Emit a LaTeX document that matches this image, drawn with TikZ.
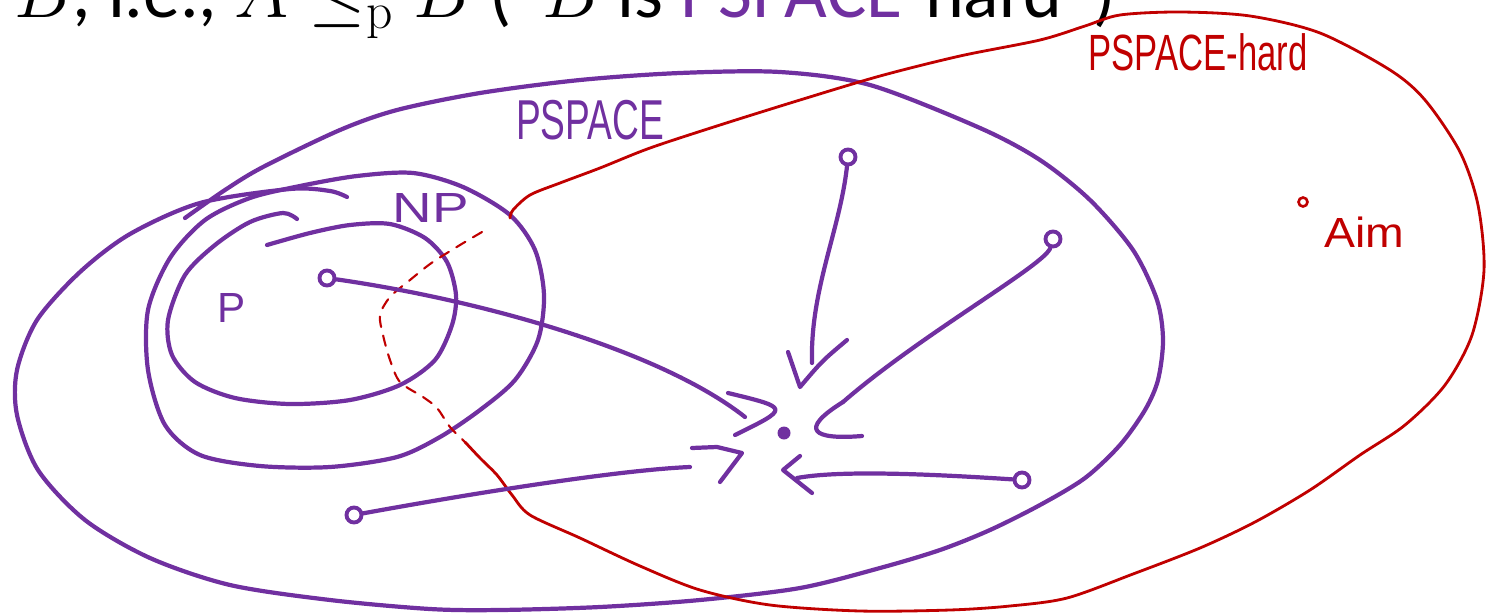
\RequirePackage{fix-cm}
\documentclass[tikz,border=0pt]{standalone}
\usepackage{tikz}
\usetikzlibrary{calc}
\usepackage{graphicx}
\usepackage[no-math]{fontspec}
\setmainfont{Carlito}
\newfontfamily\handfont{Liberation Sans}
\usepackage{xcolor}
\definecolor{classpurple}{RGB}{112,48,160}
\definecolor{hardred}{RGB}{192,0,0}
\newcommand{\classword}[1]{\textcolor{classpurple}{#1}}
\newcommand{\handtext}[2]{\scalebox{#1}[1]{#2}}

\begin{document}
\begin{tikzpicture}[x=0.02cm,y=-0.02cm,
  classline/.style={classpurple,line width=2.4pt,line cap=round,line join=round},
  hardline/.style={hardred,line width=1.6pt,line cap=round,line join=round},
  srcdot/.style={circle,draw=classpurple,line width=2.2pt,inner sep=0pt,minimum size=0.3cm},
  hand/.style={inner sep=0pt}]
  \clip (0,0) rectangle (1486,612);
  % the cut-off line of text at the top
  \node[anchor=base west,inner sep=0,font=\fontsize{42}{50}\selectfont] (title) at (14,17)
    {$B$, i.e., $A \le_{\mathrm{p}} B$ (“$B$ is \classword{PSPACE}-hard”)};
  % PSPACE
  \draw[classline] plot[smooth] coordinates {(185,218) (225,190) (263,167) (340,130)
    (397,110) (480,93) (580,80) (680,73) (780,72) (870,85) (980,128) (1040,160)
    (1090,200) (1133,250) (1157,300) (1163,340) (1158,380) (1145,410) (1120,445)
    (1085,478) (1040,505) (990,530) (940,550) (880,568) (800,588) (700,600) (600,607)
    (500,610) (430,609) (330,600) (230,585) (150,558) (85,520) (38,470) (17,415)
    (17,370) (37,320) (80,272) (130,234) (200,203) (290,189) (330,191) (347,197)};
  % NP
  \draw[classline] plot[smooth cycle] coordinates {(300,186) (357,176) (413,173)
    (463,187) (510,215) (535,250) (544,295) (538,340) (515,380) (480,410) (440,437)
    (397,457) (330,467) (260,466) (200,455) (165,425) (148,370) (148,310) (170,258)
    (205,220) (250,198)};
  % P
  \draw[classline] plot[smooth] coordinates {(297,219) (283,213) (250,222) (215,245)
    (185,275) (168,320) (172,355) (195,382) (235,398) (290,404) (350,400) (400,385)
    (435,360) (452,325) (456,295) (447,262) (425,238) (390,224) (350,225) (310,233)
    (267,245)};
  % PSPACE-hard
  \draw[hardline] plot[smooth] coordinates {(465,442) (480,458) (497,475) (512,495)
    (530,515) (580,538) (640,566) (700,590) (770,605) (860,611) (950,610) (1010,606)
    (1067,598) (1133,574) (1200,548) (1255,522) (1310,490) (1360,455) (1405,425)
    (1445,385) (1472,335) (1484,270) (1478,205) (1460,152) (1425,100) (1390,70)
    (1320,33) (1250,16) (1180,12) (1120,15) (1085,26) (1040,40) (960,56) (880,76)
    (800,100) (720,125) (650,148) (600,168) (560,183) (530,195) (513,210) (510,218)};
  \draw[hardline,line width=1.2pt,dash pattern=on 6pt off 5pt] plot[smooth] coordinates
    {(482,232) (465,242) (447,253) (430,264) (410,280) (390,297) (380,315) (383,335)
    (390,360) (400,382) (423,397) (437,408) (450,427) (465,442)};
  % labels
  \node[hand,classpurple,font=\handfont\fontsize{24}{24}\selectfont] (plbl) at (232,308) {P};
  \node[hand,classpurple,font=\handfont\fontsize{24}{24}\selectfont] (nplbl) at (431,208)
    {\handtext{1.3}{NP}};
  \node[hand,classpurple,font=\handfont\fontsize{32}{32}\selectfont] (pspacelbl) at (590,120)
    {\handtext{0.66}{PSPACE}};
  \node[hand,hardred,font=\handfont\fontsize{29}{29}\selectfont] (hardlbl) at (1198,52)
    {\handtext{0.68}{PSPACE-hard}};
  \node[hand,hardred,font=\handfont\fontsize{24}{24}\selectfont] (aimlbl) at (1364,232)
    {\handtext{1.1}{Aim}};
  \node[circle,draw=hardred,line width=1.5pt,inner sep=0pt,minimum size=0.18cm] (aimdot)
    at (1303,202) {};
  % problems and the reductions to the target
  \node[circle,fill=classpurple,inner sep=0pt,minimum size=0.26cm] (tgt) at (784,433) {};
  \node[srcdot] (srcP) at (327,278) {};
  \node[srcdot] (srcA) at (848,157) {};
  \node[srcdot] (srcB) at (1053,239) {};
  \node[srcdot] (srcC) at (1022,480) {};
  \node[srcdot] (srcD) at (354,515) {};
  \coordinate (e1) at (745,417);
  \coordinate (e2) at (812,363);
  \coordinate (e3) at (843,402);
  \coordinate (e4) at (797,478);
  \coordinate (e5) at (690,467);
  \draw[classline] (srcP) .. controls (480,300) and (660,350) .. (e1);
  \draw[classline] ([shift={(-17,-24)}]e1) .. controls ([shift={(45,-9)}]e1) .. ([shift={(-10,18)}]e1);
  \draw[classline] (srcA) .. controls (840,230) and (810,290) .. (e2);
  \draw[classline] ([shift={(-24,-11)}]e2) -- ([shift={(-12,24)}]e2)
    .. controls ([shift={(10,-2)}]e2) .. ([shift={(35,-23)}]e2);
  \draw[classline] (srcB) .. controls (1045,265) and (920,335) .. (e3);
  \draw[classline] (e3) .. controls ([shift={(-45,28)}]e3) and ([shift={(-30,38)}]e3)
    .. ([shift={(19,34)}]e3);
  \draw[classline] (srcC) .. controls (930,474) and (840,470) .. (e4);
  \draw[classline] ([shift={(3,-22)}]e4) -- ([shift={(-14,-8)}]e4) -- ([shift={(15,15)}]e4);
  \draw[classline] (srcD) .. controls (480,492) and (620,470) .. (e5);
  \draw[classline] ([shift={(2,-19)}]e5) -- ([shift={(27,-20)}]e5) -- ([shift={(52,-14)}]e5)
    -- ([shift={(30,15)}]e5);
\end{tikzpicture}
\end{document}
